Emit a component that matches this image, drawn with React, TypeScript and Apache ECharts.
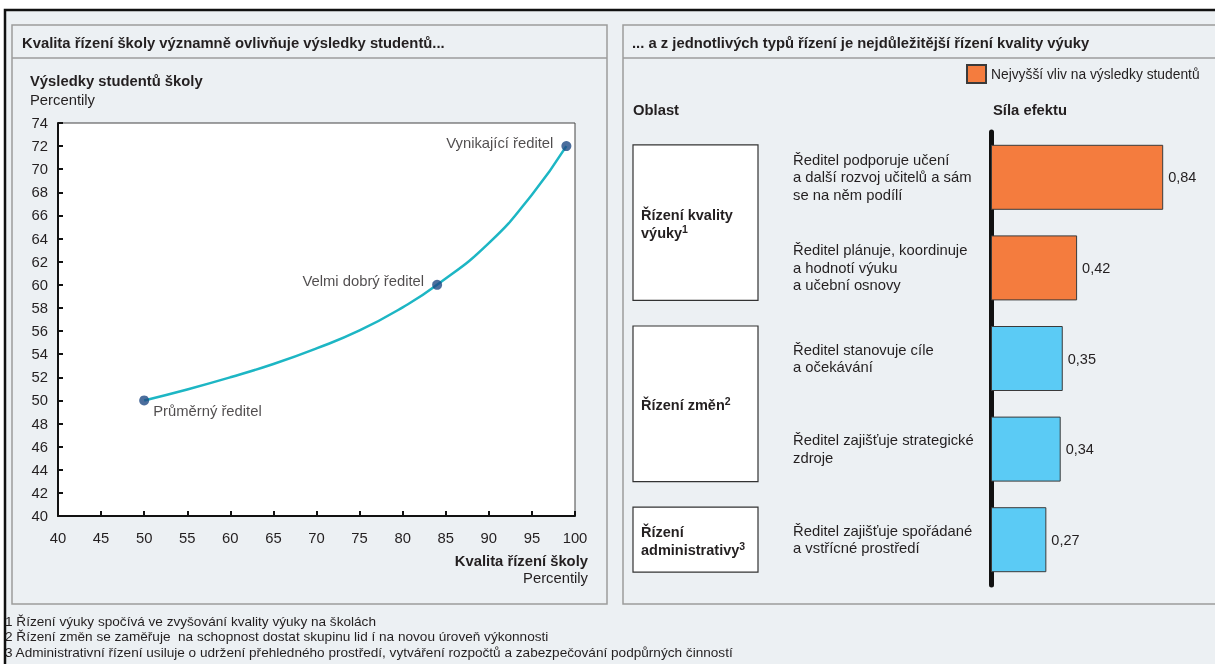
import React, { useEffect, useRef } from "react";
import * as echarts from "echarts";

// ---------- data ----------
const curveX = [50, 55, 60, 65, 70, 75, 80, 84, 90, 95, 99];
const curveY = [50, 50.95, 52.0, 53.15, 54.5, 56.05, 58.05, 60, 63.6, 67.8, 72];

const pointNames = ["Průměrný ředitel", "Velmi dobrý ředitel", "Vynikající ředitel"];
const pointX = [50, 84, 99];
const pointY = [50, 60, 72];

const practices = [
  "Ředitel podporuje učení\na další rozvoj učitelů a sám\nse na něm podílí",
  "Ředitel plánuje, koordinuje\na hodnotí výuku\na učební osnovy",
  "Ředitel stanovuje cíle\na očekávání",
  "Ředitel zajišťuje strategické\nzdroje",
  "Ředitel zajišťuje spořádané\na vstřícné prostředí",
];
const effects = [0.84, 0.42, 0.35, 0.34, 0.27];
const highest = [true, true, false, false, false];

const areaLines = [["Řízení kvality", "výuky"], ["Řízení změn"], ["Řízení", "administrativy"]];
const areaNote = ["1", "2", "3"];
const areaFirst = [0, 2, 4];
const areaLast = [1, 3, 4];

const footnotes = [
  "1 Řízení výuky spočívá ve zvyšování kvality výuky na školách",
  "2 Řízení změn se zaměřuje  na schopnost dostat skupinu lid í na novou úroveň výkonnosti",
  "3 Administrativní řízení usiluje o udržení přehledného prostředí, vytváření rozpočtů a zabezpečování podpůrných činností",
];

const legendName = "Nejvyšší vliv na výsledky studentů";

// ---------- styles ----------
const FONT = "'Liberation Sans', Arial, sans-serif";
const TXT = "#231F20";
const BG = "#ECF0F3";
const PANEL = "#9C9C9C";
const ORANGE = "#F47C3E";
const BLUE = "#5BCBF5";
const TEAL = "#1DB6C4";
const DOT = "#1F4A85";
const FS = 14.8;

const labelPlacement = [
  { position: "right", distance: 4, offset: [0, 11] },
  { position: "left", distance: 8, offset: [0, -4] },
  { position: "left", distance: 8, offset: [0, -3] },
];

function txt(x: number, y: number, text: string, extra: any = {}) {
  return {
    type: "text",
    x,
    y,
    silent: true,
    style: {
      text,
      fill: TXT,
      font: `${extra.weight || "normal"} ${extra.size || FS}px ${FONT}`,
      textAlign: extra.align || "left",
      textVerticalAlign: "middle",
    },
  };
}

export default function App() {
  const ref = useRef<HTMLDivElement>(null);

  useEffect(() => {
    if (!ref.current) return;
    const chart = echarts.init(ref.current, undefined, { renderer: "svg" });

    const baseGraphic: any[] = [
      { type: "rect", z: -20, silent: true, shape: { x: 0, y: 0, width: 1215, height: 664 }, style: { fill: "#fff" } },
      { type: "rect", z: -19, silent: true, shape: { x: 5, y: 10, width: 1230, height: 680 }, style: { fill: BG, stroke: "#111", lineWidth: 2.5 } },
      { type: "rect", z: -18, silent: true, shape: { x: 12, y: 25, width: 595, height: 579 }, style: { fill: "none", stroke: PANEL, lineWidth: 1.5 } },
      { type: "line", z: -18, silent: true, shape: { x1: 12, y1: 58, x2: 607, y2: 58 }, style: { stroke: PANEL, lineWidth: 1.5 } },
      { type: "rect", z: -18, silent: true, shape: { x: 623, y: 25, width: 620, height: 579 }, style: { fill: "none", stroke: PANEL, lineWidth: 1.5 } },
      { type: "line", z: -18, silent: true, shape: { x1: 623, y1: 58, x2: 1215, y2: 58 }, style: { stroke: PANEL, lineWidth: 1.5 } },
      txt(22, 43, "Kvalita řízení školy významně ovlivňuje výsledky studentů...", { weight: "bold", size: 14.8 }),
      txt(632, 43, "... a z jednotlivých typů řízení je nejdůležitější řízení kvality výuky", { weight: "bold", size: 14.8 }),
      txt(30, 81, "Výsledky studentů školy", { weight: "bold", size: 14.8 }),
      txt(30, 100, "Percentily"),
      txt(588, 561, "Kvalita řízení školy", { weight: "bold", size: 14.8, align: "right" }),
      txt(588, 578, "Percentily", { align: "right" }),
      txt(633, 110, "Oblast", { weight: "bold", size: 14.8 }),
      txt(993, 110, "Síla efektu", { weight: "bold", size: 14.8 }),
      ...footnotes.map((f, i) => txt(5, 621 + i * 15.5, f, { size: 13.6 })),
    ];

    const fmt = (v: number) => v.toFixed(2).replace(".", ",");
    const barLabel = {
      show: true,
      position: "right",
      distance: 5,
      fontSize: 14.5,
      color: TXT,
      fontFamily: FONT,
      formatter: (p: any) => fmt(p.value),
    };

    chart.setOption({
      animation: false,
      textStyle: { fontFamily: FONT, color: TXT },
      legend: {
        data: [legendName],
        left: 966,
        top: 64,
        icon: "rect",
        itemWidth: 19,
        itemHeight: 18,
        itemGap: 8,
        padding: 0,
        textStyle: { fontSize: 13.8, color: TXT, fontFamily: FONT },
      },
      grid: [
        { left: 58, top: 123, width: 517, height: 393, show: true, backgroundColor: "#fff", borderColor: "#444", borderWidth: 1 },
        { left: 991, top: 132, width: 205, height: 453 },
      ],
      xAxis: [
        {
          type: "value",
          gridIndex: 0,
          min: 40,
          max: 100,
          interval: 5,
          axisLine: { show: true, onZero: false, lineStyle: { color: "#111", width: 2 } },
          axisTick: { show: true, inside: true, length: 5, lineStyle: { color: "#111", width: 2 } },
          axisLabel: { margin: 14, fontSize: FS, color: TXT, fontFamily: FONT },
          splitLine: { show: false },
        },
        { type: "value", gridIndex: 1, min: 0, max: 1, show: false },
      ],
      yAxis: [
        {
          type: "value",
          gridIndex: 0,
          min: 40,
          max: 74,
          interval: 2,
          axisLine: { show: true, onZero: false, lineStyle: { color: "#111", width: 2 } },
          axisTick: { show: true, inside: true, length: 5, lineStyle: { color: "#111", width: 2 } },
          axisLabel: { margin: 10, fontSize: FS, color: TXT, fontFamily: FONT },
          splitLine: { show: false },
        },
        {
          type: "category",
          gridIndex: 1,
          inverse: true,
          data: practices,
          axisLine: { show: true, lineStyle: { color: "#111", width: 5 } },
          axisTick: { show: false },
          axisLabel: { align: "left", margin: 198, fontSize: FS, lineHeight: 17.5, color: TXT, fontFamily: FONT },
        },
      ],
      series: [
        {
          type: "line",
          xAxisIndex: 0,
          yAxisIndex: 0,
          data: curveX.map((x, i) => [x, curveY[i]]),
          smooth: 0.5,
          showSymbol: false,
          symbol: "none",
          lineStyle: { color: TEAL, width: 2.5 },
          z: 2,
        },
        {
          type: "scatter",
          xAxisIndex: 0,
          yAxisIndex: 0,
          symbolSize: 10,
          itemStyle: { color: DOT },
          z: 3,
          data: pointNames.map((n, i) => ({
            value: [pointX[i], pointY[i]],
            name: n,
            label: {
              show: true,
              formatter: n,
              fontSize: FS,
              color: TXT,
              fontFamily: FONT,
              ...labelPlacement[i],
            },
          })),
        },
        {
          type: "bar",
          name: legendName,
          xAxisIndex: 1,
          yAxisIndex: 1,
          barWidth: 65,
          barGap: "-100%",
          data: effects.map((v, i) => (highest[i] ? v : null)),
          itemStyle: { color: ORANGE, borderColor: "#3a3a3a", borderWidth: 1 },
          label: barLabel,
        },
        {
          type: "bar",
          name: "Ostatní",
          xAxisIndex: 1,
          yAxisIndex: 1,
          barWidth: 65,
          barGap: "-100%",
          data: effects.map((v, i) => (highest[i] ? null : v)),
          itemStyle: { color: BLUE, borderColor: "#3a3a3a", borderWidth: 1 },
          label: barLabel,
        },
      ],
      graphic: baseGraphic,
    });

    // area boxes aligned to the bars of each group
    const half = 65 / 2;
    const boxes: any[] = [];
    areaLines.forEach((lines, g) => {
      const top = (chart.convertToPixel({ yAxisIndex: 1 } as any, areaFirst[g]) as number) - half;
      const bot = (chart.convertToPixel({ yAxisIndex: 1 } as any, areaLast[g]) as number) + half;
      boxes.push({
        type: "rect",
        silent: true,
        shape: { x: 633, y: top, width: 125, height: bot - top },
        style: { fill: "#fff", stroke: "#333", lineWidth: 1.2 },
      });
      const richText = lines
        .map((l, k) => (k === lines.length - 1 ? `{b|${l}}{s|${areaNote[g]}}` : `{b|${l}}`))
        .join("\n");
      boxes.push({
        type: "text",
        silent: true,
        x: 641,
        y: (top + bot) / 2 + 1,
        style: {
          text: richText,
          textVerticalAlign: "middle",
          rich: {
            b: { fill: TXT, fontSize: 14.5, fontWeight: "bold", fontFamily: FONT, lineHeight: 18 },
            s: { fill: TXT, fontSize: 10.5, fontWeight: "bold", fontFamily: FONT, lineHeight: 18, verticalAlign: "top" },
          },
        },
      });
    });
    chart.setOption({ graphic: [...baseGraphic, ...boxes] });

    return () => chart.dispose();
  }, []);

  return (
    <div
      ref={ref}
      style={{ position: "fixed", left: 0, top: 0, width: 1215, height: 664 }}
    />
  );
}
